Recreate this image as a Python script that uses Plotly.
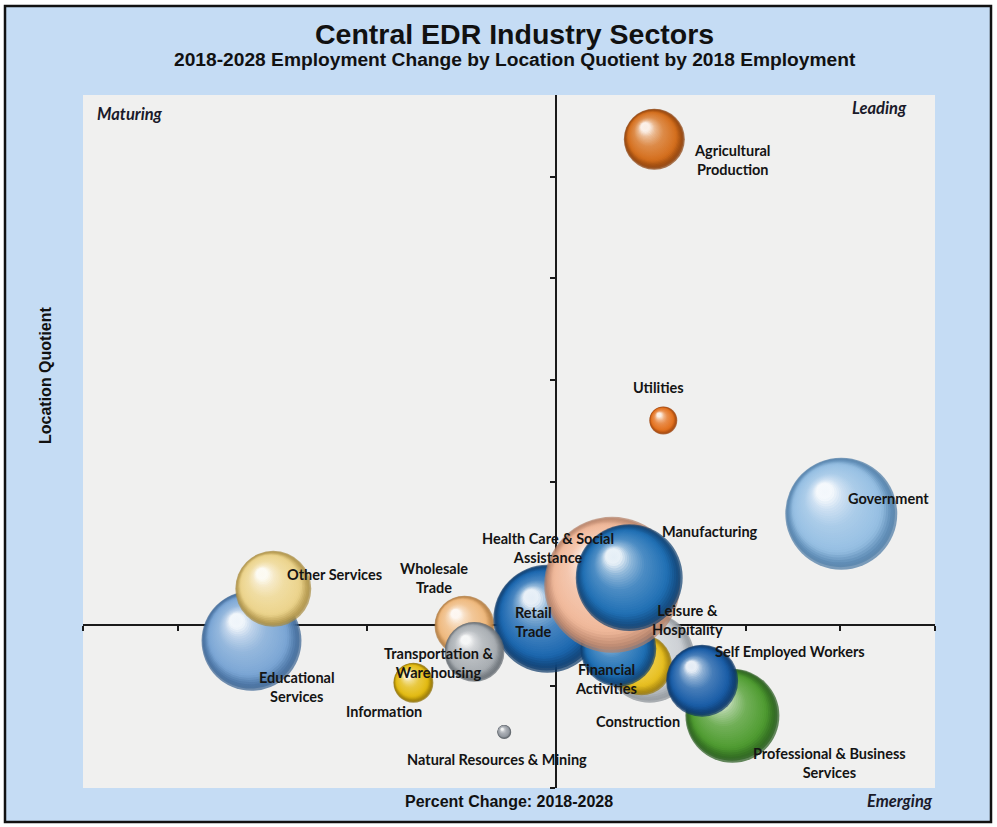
import plotly.graph_objects as go

# ---- data -----------------------------------------------------------------
sectors = [
    "Educational Services", "Other Services", "Wholesale Trade", "Retail Trade",
    "Transportation & Warehousing", "Information", "Natural Resources & Mining",
    "Leisure & Hospitality", "Construction", "Financial Activities",
    "Health Care & Social Assistance", "Manufacturing",
    "Professional & Business Services", "Self Employed Workers", "Government",
    "Utilities", "Agricultural Production",
]
pct_change = [-0.0644, -0.0598, -0.0194, -0.0019, -0.0173, -0.0302, -0.0110,
              0.0197, 0.0180, 0.0131, 0.0118, 0.0154, 0.0372, 0.0308, 0.0602,
              0.0226, 0.0207]
location_quotient = [0.922, 1.177, 0.996, 1.030, 0.868, 0.716, 0.475,
                     0.839, 0.804, 0.883, 1.197, 1.232, 0.554, 0.726, 1.546,
                     2.003, 3.383]
employment_2018 = [28100, 16250, 10100, 32800, 10100, 4500, 550,
                   22800, 10400, 16200, 52000, 32200, 24850, 14600, 35300,
                   2200, 10460]
label_text = [
    "Educational<br>Services", "Other Services", "Wholesale<br>Trade",
    "Retail<br>Trade", "Transportation &<br>Warehousing", "Information",
    "Natural Resources & Mining", "Leisure &<br>Hospitality", "Construction",
    "Financial<br>Activities", "Health Care & Social<br>Assistance",
    "Manufacturing", "Professional & Business<br>Services",
    "Self Employed Workers", "Government", "Utilities",
    "Agricultural<br>Production",
]

# ---- styling ----------------------------------------------------------------
# (base, shadow) colours for each sphere
palette = {
    "Educational Services": ("#7ba6d5", "#2c5686"),
    "Other Services": ("#ecd48c", "#9c7e32"),
    "Wholesale Trade": ("#efb97e", "#a36c30"),
    "Retail Trade": ("#1c68b0", "#08305c"),
    "Transportation & Warehousing": ("#a9aeb3", "#555c63"),
    "Information": ("#e3bb12", "#7f6200"),
    "Natural Resources & Mining": ("#9399a0", "#42484e"),
    "Leisure & Hospitality": ("#cdd1d5", "#80878d"),
    "Construction": ("#e8c020", "#8a6b06"),
    "Financial Activities": ("#1e6fb4", "#093462"),
    "Health Care & Social Assistance": ("#f1b99b", "#a8735a"),
    "Manufacturing": ("#2070b5", "#093664"),
    "Professional & Business Services": ("#4f9c30", "#1d4d16"),
    "Self Employed Workers": ("#1a5ea8", "#082d5a"),
    "Government": ("#96bfe3", "#3b6c99"),
    "Utilities": ("#e4721f", "#8c3604"),
    "Agricultural Production": ("#d56f1d", "#7c3404"),
}
# label placement relative to each sphere centre, in pixels (x right, y up)
label_shift = {
    "Educational Services": (45, -46),
    "Other Services": (61, 14),
    "Wholesale Trade": (-31, 48),
    "Retail Trade": (-14, -3),
    "Transportation & Warehousing": (-36, -11),
    "Information": (-29, -29),
    "Natural Resources & Mining": (-7, -28),
    "Leisure & Hospitality": (38, 38),
    "Construction": (-4, -57),
    "Financial Activities": (-12, -30),
    "Health Care & Social Assistance": (-64, 37),
    "Manufacturing": (81, 46),
    "Professional & Business Services": (97, -47),
    "Self Employed Workers": (88, 29),
    "Government": (47, 15),
    "Utilities": (-5, 33),
    "Agricultural Production": (78, -21),
}

W, H = 997, 827
M_L, M_R, M_T, M_B = 83, 62, 95, 39
X_RANGE = [-0.10, 0.08]
Y_RANGE = [0.2, 3.6]
plot_w = W - M_L - M_R
plot_h = H - M_T - M_B
dx_per_px = (X_RANGE[1] - X_RANGE[0]) / plot_w
dy_per_px = (Y_RANGE[1] - Y_RANGE[0]) / plot_h

SIZE_K = 0.596      # sphere diameter (px) per sqrt(employee)
SHADE_STEPS = 30    # nested discs used to shade each sphere


def to_rgb(hex_color):
    h = hex_color.lstrip("#")
    return [int(h[i:i + 2], 16) for i in (0, 2, 4)]


def mix(a, b, t):
    ca, cb = to_rgb(a), to_rgb(b)
    return "#%02x%02x%02x" % tuple(round(ca[k] + (cb[k] - ca[k]) * t) for k in range(3))


def ramp(base, dark, t):
    """Colour from the shaded rim (t=0) to the specular spot (t=1)."""
    stops = [(0.0, dark), (0.25, base), (0.62, mix(base, "#ffffff", 0.20)),
             (0.85, mix(base, "#ffffff", 0.52)), (1.0, mix(base, "#ffffff", 0.92))]
    for (t0, c0), (t1, c1) in zip(stops, stops[1:]):
        if t <= t1:
            return mix(c0, c1, (t - t0) / (t1 - t0))
    return stops[-1][1]


fig = go.Figure()

for name, x, y, emp in zip(sectors, pct_change, location_quotient, employment_2018):
    base, dark = palette[name]
    d = SIZE_K * emp ** 0.5
    xs, ys, sizes, cols, grads = [], [], [], [], []
    for k in range(SHADE_STEPS):
        t = k / (SHADE_STEPS - 1)
        # discs shrink while sliding toward the upper-left light spot
        shift_x = -0.30 * (d / 2) * t
        shift_y = 0.40 * (d / 2) * t
        xs.append(x + shift_x * dx_per_px)
        ys.append(y + shift_y * dy_per_px)
        sizes.append(d * (1 - 0.86 * t))
        t_next = min(1.0, (k + 1) / (SHADE_STEPS - 1))
        cols.append(ramp(base, dark, t_next))
        grads.append(ramp(base, dark, t))
    fig.add_trace(go.Scatter(
        x=xs, y=ys, mode="markers", name=name, showlegend=False,
        hoverinfo="skip",
        marker=dict(size=sizes, color=cols, line=dict(width=0),
                    gradient=dict(type="radial", color=grads)),
    ))

annotations = []
for name, x, y, txt in zip(sectors, pct_change, location_quotient, label_text):
    sx, sy = label_shift[name]
    annotations.append(dict(
        x=x, y=y, xref="x", yref="y", text=txt, showarrow=False,
        xshift=sx, yshift=sy, align="center", xanchor="center", yanchor="middle",
        font=dict(family="Lato", size=14.5, color="#141414", weight="bold"),
    ))


def px_x(px):
    return (px - M_L) / plot_w


def px_y(py):
    return (H - M_B - py) / plot_h


# quadrant captions
quad_font = dict(family="Lato", size=16.5, color="#1a1a2a", style="italic", weight="bold")
annotations += [
    dict(x=px_x(95), y=px_y(114), xref="paper", yref="paper", text="Maturing",
         showarrow=False, xanchor="left", yanchor="middle", font=quad_font),
    dict(x=px_x(909), y=px_y(108), xref="paper", yref="paper", text="Leading",
         showarrow=False, xanchor="right", yanchor="middle", font=quad_font),
    dict(x=px_x(935), y=px_y(801), xref="paper", yref="paper", text="Emerging",
         showarrow=False, xanchor="right", yanchor="middle", font=quad_font),
]

# titles
title_font = dict(family="Liberation Sans", size=16, color="#111111", weight="bold")
annotations += [
    dict(x=px_x(509), y=px_y(801), xref="paper", yref="paper",
         text="Percent Change: 2018-2028", showarrow=False,
         xanchor="center", yanchor="middle", font=title_font),
    dict(x=px_x(45), y=px_y(375), xref="paper", yref="paper",
         text="Location Quotient", showarrow=False, textangle=-90,
         xanchor="center", yanchor="middle", font=title_font),
    dict(x=px_x(514), y=px_y(34), xref="paper", yref="paper",
         text="Central EDR Industry Sectors", showarrow=False,
         xanchor="center", yanchor="middle",
         font=dict(family="Liberation Sans", size=28.5, color="#111111", weight="bold")),
    dict(x=px_x(515), y=px_y(60), xref="paper", yref="paper",
         text="2018-2028 Employment Change by Location Quotient by 2018 Employment",
         showarrow=False, xanchor="center", yanchor="middle",
         font=dict(family="Liberation Sans", size=19.2, color="#111111", weight="bold")),
]

# light blue frame and pale plotting panel
shapes = [
    dict(type="rect", xref="paper", yref="paper", layer="below",
         x0=px_x(5), x1=px_x(991), y0=px_y(822), y1=px_y(6),
         fillcolor="#c5dcf4", line=dict(color="#111111", width=2.5)),
    dict(type="rect", xref="paper", yref="paper", layer="below",
         x0=0, x1=1, y0=0, y1=1, fillcolor="#f0f0ef", line=dict(width=0)),
]

# axes cross at zero change and at a location quotient of 1
x_cross_pos = (1.0 - Y_RANGE[0]) / (Y_RANGE[1] - Y_RANGE[0])
y_cross_pos = (0.0 - X_RANGE[0]) / (X_RANGE[1] - X_RANGE[0])

fig.update_layout(
    width=W, height=H,
    margin=dict(l=M_L, r=M_R, t=M_T, b=M_B),
    paper_bgcolor="#ffffff",
    plot_bgcolor="rgba(0,0,0,0)",
    showlegend=False,
    annotations=annotations,
    shapes=shapes,
    xaxis=dict(range=X_RANGE, anchor="free", position=x_cross_pos,
               showgrid=False, zeroline=False, showticklabels=False,
               showline=True, linecolor="#1a1a1a", linewidth=2,
               ticks="outside", ticklen=5, tickwidth=1.5, tickcolor="#1a1a1a",
               tick0=-0.10, dtick=0.02, layer="below traces", fixedrange=True),
    yaxis=dict(range=Y_RANGE, anchor="free", position=y_cross_pos,
               showgrid=False, zeroline=False, showticklabels=False,
               showline=True, linecolor="#1a1a1a", linewidth=2,
               ticks="outside", ticklen=5, tickwidth=1.5, tickcolor="#1a1a1a",
               tick0=0.2, dtick=0.5, layer="below traces", fixedrange=True),
)

fig.write_html("out.html")
